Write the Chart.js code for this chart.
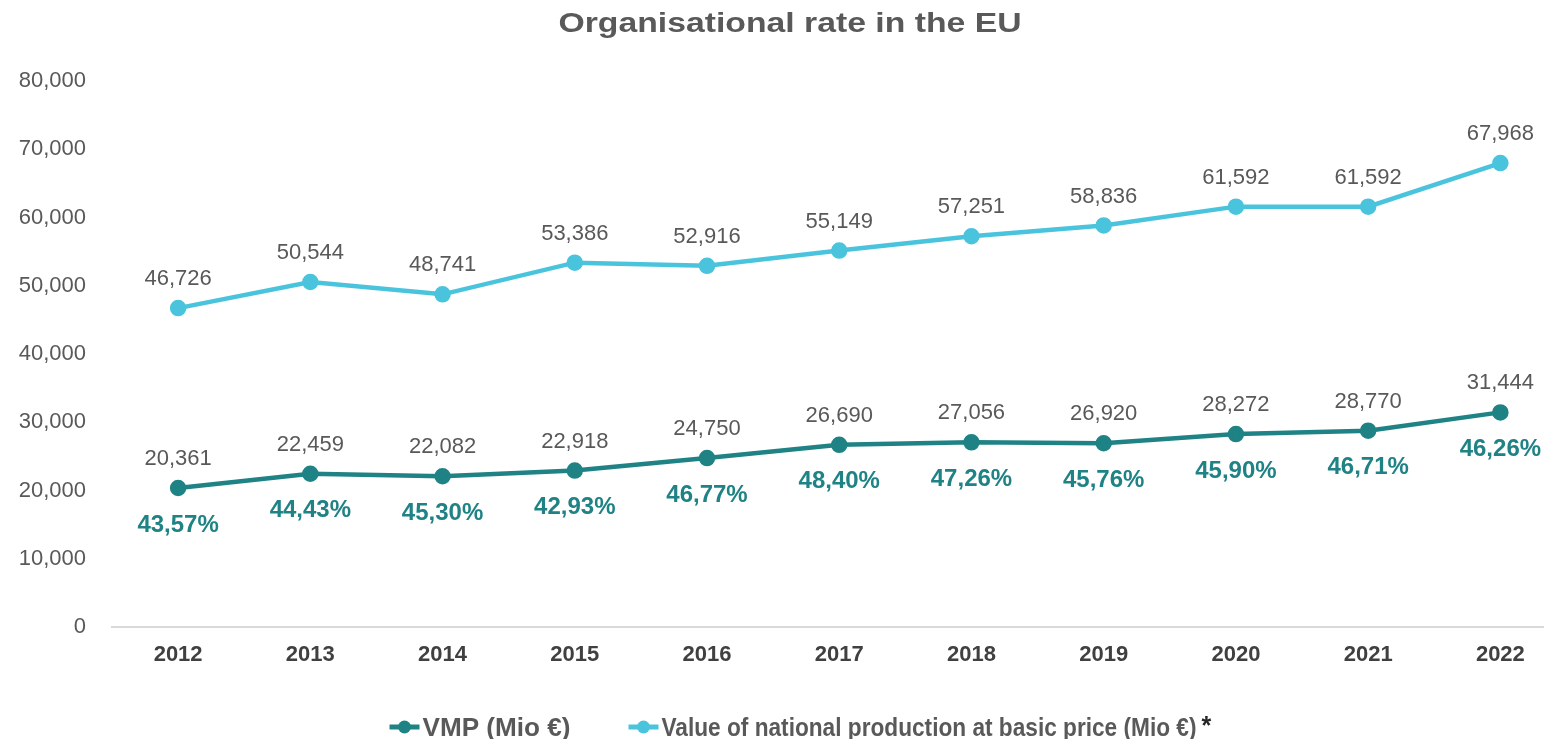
<!DOCTYPE html>
<html>
<head>
<meta charset="utf-8">
<script src="https://cdn.jsdelivr.net/npm/chart.js@4.4.1/dist/chart.umd.min.js"></script>
<style>
  html, body { margin: 0; padding: 0; background: #fff; overflow: hidden; }
  canvas { display: block; }
</style>
</head>
<body>
<canvas id="chart" width="1544" height="739"></canvas>
<script>
// chart data
const years = [2012, 2013, 2014, 2015, 2016, 2017, 2018, 2019, 2020, 2021, 2022];
const vmp = [20361, 22459, 22082, 22918, 24750, 26690, 27056, 26920, 28272, 28770, 31444];
const nationalProduction = [46726, 50544, 48741, 53386, 52916, 55149, 57251, 58836, 61592, 61592, 67968];
const orgRate = [43.57, 44.43, 45.30, 42.93, 46.77, 48.40, 47.26, 45.76, 45.90, 46.71, 46.26];
const seriesNames = ['VMP (Mio €)', 'Value of national production at basic price (Mio €)'];
const yTicks = [0, 10000, 20000, 30000, 40000, 50000, 60000, 70000, 80000];
const chartTitle = 'Organisational rate in the EU';

const dark = '#1f8285';
const light = '#4ac4dd';
const grey = '#595959';
const FONT = '"Liberation Sans", Arial, sans-serif';

const fmt = (v) => v.toLocaleString('en-US');
const fmtPct = (v) => v.toFixed(2).replace('.', ',') + '%';

// value labels above the points, rate labels under the VMP line
const labelPlugin = {
    id: 'pointLabels',
    afterDatasetsDraw(chart) {
        const ctx = chart.ctx;
        ctx.save();
        ctx.textAlign = 'center';
        ctx.textBaseline = 'middle';
        chart.data.datasets.forEach((ds, i) => {
            const meta = chart.getDatasetMeta(i);
            meta.data.forEach((pt, j) => {
                ctx.font = '22px ' + FONT;
                ctx.fillStyle = grey;
                ctx.fillText(fmt(ds.data[j].y), pt.x, pt.y - 29);
                if (i === 0) {
                    ctx.font = 'bold 24px ' + FONT;
                    ctx.fillStyle = dark;
                    ctx.fillText(fmtPct(orgRate[j]), pt.x, pt.y + 37);
                }
            });
        });
        ctx.restore();
    }
};

// title and legend drawn by hand (wide title, squeezed legend like the excel export)
const decorPlugin = {
    id: 'decor',
    afterDraw(chart) {
        const ctx = chart.ctx;
        ctx.save();
        // title
        ctx.font = 'bold 27px ' + FONT;
        ctx.fillStyle = grey;
        ctx.textBaseline = 'middle';
        ctx.textAlign = 'left';
        const tw = ctx.measureText(chartTitle).width;
        ctx.save();
        ctx.translate(790 - 463 / 2, 25);
        ctx.scale(463 / tw, 1);
        ctx.fillText(chartTitle, 0, 0);
        ctx.restore();

        // legend
        const ly = 729;
        ctx.font = 'bold 25px ' + FONT;
        const targetW = [148, 535];
        const markW = 30, markGap = 3, itemGap = 58, starW = 16;
        const total = targetW.reduce((a, w) => a + markW + markGap + w, 0) + itemGap + starW;
        let x = 801 - total / 2;
        chart.data.datasets.forEach((ds, i) => {
            ctx.strokeStyle = ds.borderColor;
            ctx.lineWidth = 5;
            ctx.beginPath(); ctx.moveTo(x, ly - 2); ctx.lineTo(x + markW, ly - 2); ctx.stroke();
            ctx.fillStyle = ds.borderColor;
            ctx.beginPath(); ctx.arc(x + markW / 2, ly - 2, 6.5, 0, Math.PI * 2); ctx.fill();
            x += markW + markGap;
            ctx.fillStyle = grey;
            ctx.save();
            ctx.translate(x, ly);
            ctx.scale(targetW[i] / ctx.measureText(ds.label).width, 1);
            ctx.fillText(ds.label, 0, 0);
            ctx.restore();
            x += targetW[i] + itemGap;
        });
        ctx.fillStyle = '#262626';
        ctx.fillText('*', x - itemGap + 5, ly - 2);
        ctx.restore();
    }
};

new Chart(document.getElementById('chart'), {
    type: 'line',
    data: {
        datasets: [{
            label: seriesNames[0],
            data: years.map((y, i) => ({ x: y, y: vmp[i] })),
            borderColor: dark,
            backgroundColor: dark,
            borderWidth: 4.5,
            pointRadius: 6,
            tension: 0
        }, {
            label: seriesNames[1],
            data: years.map((y, i) => ({ x: y, y: nationalProduction[i] })),
            borderColor: light,
            backgroundColor: light,
            borderWidth: 4.5,
            pointRadius: 6,
            tension: 0
        }]
    },
    options: {
        responsive: false,
        animation: false,
        layout: { autoPadding: false, padding: { left: 0, right: 0, top: 81, bottom: 62 } },
        plugins: {
            title: { display: false },
            legend: { display: false },
            tooltip: { enabled: false }
        },
        scales: {
            x: {
                type: 'linear',
                min: 2011.5,
                max: 2022.33,
                afterBuildTicks(scale) {
                    scale.ticks = years.map(v => ({ value: v }));
                },
                ticks: {
                    callback: (v) => String(v),
                    color: '#404040',
                    padding: 15,
                    maxRotation: 0,
                    font: { family: FONT, size: 22, weight: 'bold' }
                },
                grid: { display: false, drawTicks: false },
                border: { display: true, color: '#d9d9d9', width: 2 },
                afterFit(scale) {
                    scale.height = 50;
                    scale.paddingLeft = 0;
                    scale.paddingRight = 0;
                }
            },
            y: {
                min: 0,
                max: 80000,
                afterBuildTicks(scale) {
                    scale.ticks = yTicks.map(v => ({ value: v }));
                },
                ticks: {
                    callback: (v) => fmt(v),
                    color: grey,
                    padding: 26,
                    font: { family: FONT, size: 22 }
                },
                grid: { display: false, drawTicks: false },
                border: { display: false },
                afterFit(scale) {
                    scale.width = 112;
                    scale.paddingTop = 0;
                    scale.paddingBottom = 0;
                }
            }
        }
    },
    plugins: [labelPlugin, decorPlugin]
});
</script>
</body>
</html>
